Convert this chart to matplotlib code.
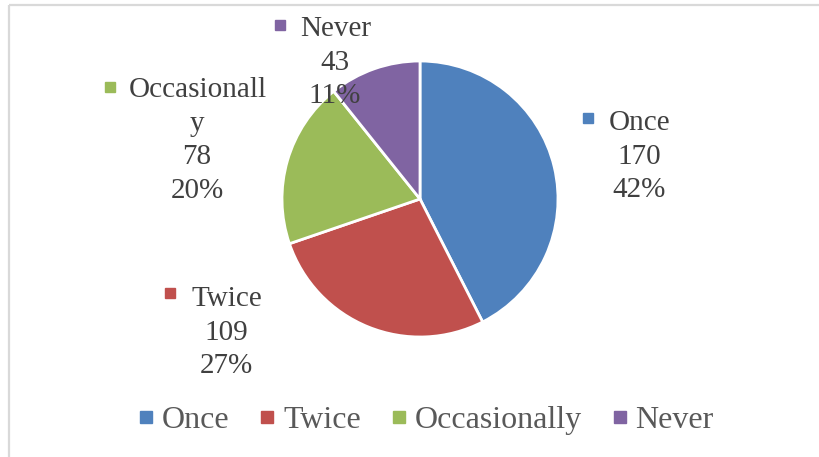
import matplotlib
matplotlib.use("Agg")
import matplotlib.pyplot as plt
from matplotlib.lines import Line2D

# Survey answers
categories = ["Once", "Twice", "Occasionally", "Never"]
counts = [170, 109, 78, 43]
colors = ["#4F81BD", "#C0504D", "#9BBB59", "#8064A2"]

W, H = 819, 457
TEXT = "#404040"
FONT = "Liberation Serif"

fig = plt.figure(figsize=(W / 100, H / 100), dpi=100)
ax = fig.add_axes([0, 0, 1, 1])


def Y(y):
    """Convert a top-down pixel row to the axes' bottom-up coordinate."""
    return H - y


# Pie, clockwise from 12 o'clock
ax.pie(counts, colors=colors, startangle=90, counterclock=False,
       center=(420, Y(199)), radius=138,
       wedgeprops=dict(edgecolor="white", linewidth=2))
ax.set_xlim(0, W)
ax.set_ylim(0, H)
ax.set_aspect("equal")
ax.axis("off")

# Chart-area border (left and top edges)
ax.plot([9, 9], [Y(5), Y(H)], color="#D9D9D9", lw=1.6, solid_capstyle="butt")
ax.plot([9, W], [Y(5), Y(5)], color="#D9D9D9", lw=1.6, solid_capstyle="butt")

# Data-label placement: marker centre, first-line left x, first baseline, centre x of following lines
label_pos = {
    "Once": ((588, 118), 609, 130, 639),
    "Twice": ((170, 293), 191, 306, 226),
    "Occasionally": ((110, 87), 129, 97, 197),
    "Never": ((280, 25), 300, 36, 335),
}
line_step = 33.7
total = sum(counts)

for name, n, col in zip(categories, counts, colors):
    (mx, my), tx, base, cx = label_pos[name]
    name_lines = [name[i:i + 11] for i in range(0, len(name), 11)]
    pct = f"{100 * n / total:.0f}%"
    ax.plot(mx, Y(my), marker="s", markersize=7.2, color=col, linestyle="none")
    ax.text(tx, Y(base), name_lines[0], ha="left", va="baseline",
            fontsize=21, family=FONT, color=TEXT)
    rest = name_lines[1:] + [str(n), pct]
    for k, line in enumerate(rest, start=1):
        ax.text(cx, Y(base + k * line_step), line, ha="center", va="baseline",
                fontsize=21, family=FONT, color=TEXT)

# Legend along the bottom
handles = [Line2D([], [], marker="s", markersize=8.0, color=c, linestyle="none")
           for c in colors]
leg = fig.legend(handles, categories, loc="center", ncol=4, frameon=False,
                 bbox_to_anchor=(427 / W, 1 - 420 / H),
                 prop=dict(family=FONT, size=23),
                 handlelength=0.36, handletextpad=0.32, columnspacing=1.0,
                 borderpad=0, borderaxespad=0)
for t in leg.get_texts():
    t.set_color("#595959")

fig.savefig("out.png", dpi=100, facecolor="white")
